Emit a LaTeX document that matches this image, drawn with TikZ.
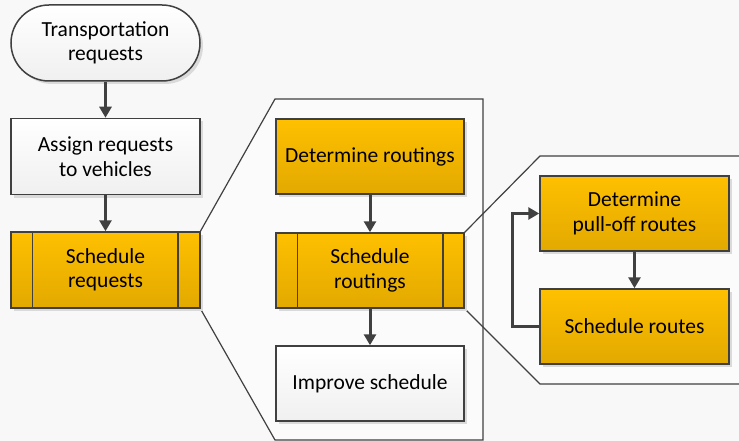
\documentclass[tikz,border=0pt]{standalone}
\usepackage{fontspec}
\setmainfont{Carlito}
\usetikzlibrary{arrows.meta,shadows}
\definecolor{edge}{HTML}{404040}
\definecolor{ytop}{HTML}{FFC000}
\definecolor{ybot}{HTML}{E2A900}
\definecolor{bg}{HTML}{F8F8F8}
\definecolor{panelfill}{HTML}{FBFBFB}
\definecolor{shadowc}{HTML}{DADADA}
\tikzset{
  box/.style={draw=edge, line width=1.5pt, minimum width=189pt, minimum height=76pt,
    inner sep=0pt, align=center, font=\fontsize{21.5}{24.5}\selectfont,
    drop shadow={shadow xshift=3pt, shadow yshift=-3pt, fill=shadowc, opacity=1}},
  ybox/.style={box, top color=ytop, bottom color=ybot},
  wbox/.style={box, top color=white, bottom color=black!6},
  termbox/.style={wbox, rounded corners=38pt},
  flow/.style={draw=edge, line width=3pt, -{Triangle[length=11pt,width=12pt]}},
  panel/.style={draw=edge, line width=1.2pt},
}
\begin{document}
\begin{tikzpicture}[x=1pt,y=-1pt]
\fill[bg] (0,0) rectangle (739,441);
\useasboundingbox (0,0) rectangle (739,441);
\begin{scope}
\clip (0,0) rectangle (739,441);
% panel fills
\fill[panelfill] (200,232) -- (275,99) -- (483,99) -- (483,440) -- (275,440) -- (200,308) -- cycle;
\fill[panelfill] (464,233) -- (540,156) -- (745,156) -- (745,384) -- (540,384) -- (464,308) -- cycle;
% panel outlines
\draw[panel] (200,232) -- (275,99) -- (483,99) -- (483,440) -- (275,440) -- (200,308);
\draw[panel] (464,233) -- (540,156) -- (745,156);
\draw[panel] (745,384) -- (540,384) -- (464,308);
\end{scope}

\node[termbox] (term) at (105.5,43) {Transportation\\requests};
\node[wbox] (assign) at (105.5,156.5) {Assign requests\\to vehicles};
\node[ybox] (sreq) at (105.5,270) {Schedule\\requests};
\draw[edge, line width=1.5pt] ([xshift=22pt]sreq.north west) -- ([xshift=22pt]sreq.south west)
  ([xshift=-23pt]sreq.north east) -- ([xshift=-23pt]sreq.south east);

\node[ybox, minimum width=188pt, minimum height=75pt] (detr) at (370,156.5) {Determine routings};
\node[ybox, minimum width=188pt, minimum height=75pt] (srout) at (370,270.5) {Schedule\\routings};
\draw[edge, line width=1.5pt] ([xshift=22pt]srout.north west) -- ([xshift=22pt]srout.south west)
  ([xshift=-22pt]srout.north east) -- ([xshift=-22pt]srout.south east);
\node[wbox, minimum width=188pt, minimum height=75pt] (impr) at (370,383.5) {Improve schedule};

\node[ybox, minimum height=75pt] (dpull) at (634.5,213.5) {Determine\\pull-off routes};
\node[ybox, minimum height=75pt] (sroutes) at (634.5,326.5) {Schedule routes};

\draw[flow] (term) -- (assign);
\draw[flow] (assign) -- (sreq);
\draw[flow] (detr) -- (srout);
\draw[flow] (srout) -- (impr);
\draw[flow] (dpull) -- (sroutes);
\draw[flow] (sroutes.west) -- ++(-27,0) |- (dpull.west);
\end{tikzpicture}
\end{document}
